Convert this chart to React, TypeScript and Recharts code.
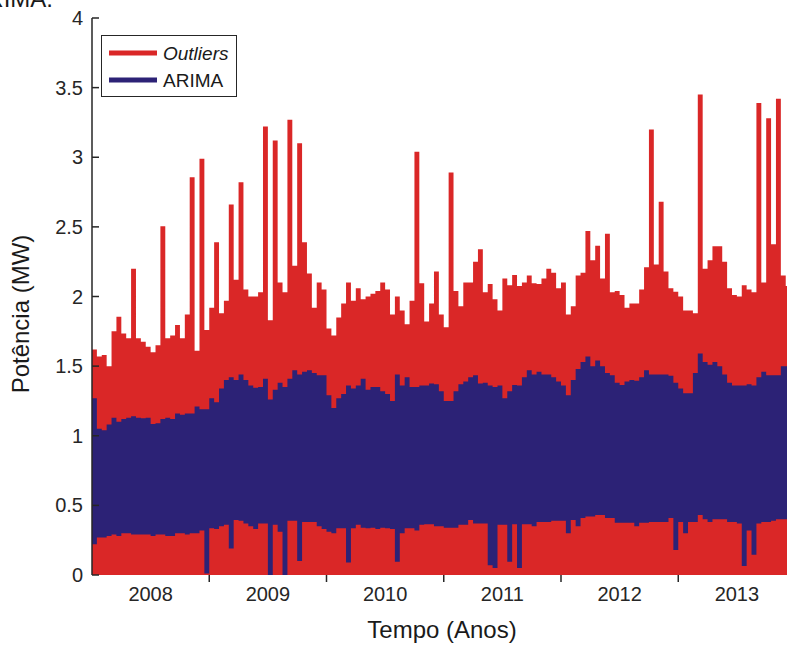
import React from "react";
import { ComposedChart, Area, XAxis, YAxis, Legend, Label } from "recharts";

// Half-month bins starting Jan 2008 (24 bins per year, one row per year)
const START_YEAR = 2008;
const BINS_PER_YEAR = 24;

// "Outliers" series: upper envelope (MW); the series fills down to 0
const outliersHigh: number[] = [
  1.62, 1.57, 1.58, 1.5, 1.75, 1.855, 1.735, 1.7, 2.2, 1.7, 1.675, 1.64, 1.6, 1.65, 2.505, 1.7, 1.72, 1.795, 1.7, 1.87, 2.856, 1.61, 2.99, 1.76,
  1.92, 2.39, 1.88, 1.97, 2.66, 2.12, 2.82, 2.05, 2.0, 2.0, 2.03, 3.22, 1.83, 3.12, 2.1, 2.03, 3.27, 2.22, 3.1, 2.39, 2.165, 1.92, 2.1, 2.05,
  1.77, 1.72, 1.85, 1.95, 2.1, 1.97, 2.06, 1.98, 2.0, 2.02, 2.04, 2.1, 2.05, 1.87, 2.0, 1.9, 1.8, 1.97, 3.04, 2.095, 1.82, 1.95, 2.18, 1.87,
  1.78, 2.89, 2.04, 1.93, 2.1, 2.1, 2.25, 2.34, 2.03, 2.09, 1.98, 1.9, 2.13, 2.08, 2.155, 2.075, 2.1, 2.15, 2.095, 2.09, 2.13, 2.2, 2.17, 2.06,
  2.1, 1.87, 1.93, 2.15, 2.17, 2.47, 2.26, 2.365, 2.13, 2.45, 2.03, 2.04, 2.01, 1.92, 1.95, 1.95, 2.05, 2.21, 3.2, 2.23, 2.68, 2.18, 2.06, 2.035,
  2.0, 1.9, 1.9, 1.88, 3.45, 2.2, 2.26, 2.36, 2.36, 2.25, 2.06, 2.01, 2.0, 2.08, 2.05, 2.03, 3.39, 2.1, 3.28, 2.375, 3.42, 2.15, 2.075,
];

// "ARIMA" series: lower and upper envelope (MW)
const arimaLow: number[] = [
  0.22, 0.27, 0.27, 0.28, 0.29, 0.28, 0.3, 0.3, 0.29, 0.29, 0.29, 0.29, 0.28, 0.29, 0.29, 0.28, 0.28, 0.3, 0.3, 0.29, 0.3, 0.3, 0.32, 0.01,
  0.335, 0.33, 0.35, 0.36, 0.19, 0.395, 0.39, 0.37, 0.35, 0.33, 0.37, 0.37, 0.0, 0.36, 0.31, 0.0, 0.39, 0.39, 0.1, 0.38, 0.38, 0.38, 0.35, 0.33,
  0.31, 0.3, 0.335, 0.335, 0.09, 0.335, 0.36, 0.34, 0.335, 0.34, 0.33, 0.34, 0.335, 0.33, 0.095, 0.3, 0.335, 0.335, 0.32, 0.36, 0.365, 0.365, 0.35, 0.35,
  0.34, 0.34, 0.34, 0.36, 0.36, 0.395, 0.37, 0.37, 0.37, 0.07, 0.05, 0.36, 0.36, 0.095, 0.365, 0.05, 0.365, 0.365, 0.35, 0.38, 0.38, 0.38, 0.39, 0.39,
  0.39, 0.3, 0.395, 0.35, 0.41, 0.42, 0.42, 0.43, 0.43, 0.41, 0.41, 0.375, 0.375, 0.375, 0.375, 0.35, 0.375, 0.375, 0.38, 0.38, 0.38, 0.38, 0.41, 0.18,
  0.38, 0.3, 0.38, 0.38, 0.43, 0.4, 0.38, 0.4, 0.4, 0.4, 0.38, 0.38, 0.37, 0.065, 0.32, 0.145, 0.37, 0.38, 0.38, 0.39, 0.4, 0.4, 0.4,
];
const arimaHigh: number[] = [
  1.27, 1.05, 1.04, 1.08, 1.13, 1.1, 1.12, 1.13, 1.14, 1.13, 1.125, 1.13, 1.085, 1.09, 1.12, 1.13, 1.12, 1.16, 1.15, 1.16, 1.16, 1.21, 1.19, 1.19,
  1.27, 1.24, 1.34, 1.4, 1.42, 1.4, 1.44, 1.4, 1.36, 1.345, 1.35, 1.41, 1.26, 1.33, 1.38, 1.35, 1.41, 1.47, 1.44, 1.46, 1.47, 1.45, 1.435, 1.435,
  1.29, 1.2, 1.27, 1.3, 1.36, 1.34, 1.36, 1.41, 1.33, 1.35, 1.35, 1.32, 1.3, 1.25, 1.44, 1.36, 1.42, 1.35, 1.35, 1.36, 1.36, 1.375, 1.37, 1.32,
  1.25, 1.25, 1.32, 1.37, 1.39, 1.42, 1.435, 1.375, 1.38, 1.36, 1.35, 1.36, 1.27, 1.32, 1.365, 1.36, 1.42, 1.47, 1.44, 1.46, 1.44, 1.44, 1.42, 1.39,
  1.36, 1.29, 1.4, 1.48, 1.53, 1.57, 1.5, 1.54, 1.5, 1.45, 1.435, 1.38, 1.365, 1.39, 1.4, 1.395, 1.42, 1.47, 1.44, 1.44, 1.44, 1.44, 1.43, 1.38,
  1.34, 1.305, 1.305, 1.45, 1.59, 1.53, 1.51, 1.53, 1.5, 1.44, 1.38, 1.36, 1.36, 1.36, 1.37, 1.36, 1.42, 1.46, 1.435, 1.435, 1.435, 1.5, 1.5,
];

const yTicks = [0, 0.5, 1, 1.5, 2, 2.5, 3, 3.5, 4];
const yearLabels = [2008, 2009, 2010, 2011, 2012, 2013];
const yearBoundaries = [2009, 2010, 2011, 2012, 2013, 2014];

const RED = "#DA2727";
const BLUE = "#2C2276";
const AXIS = "#262626";
const FONT = "'Liberation Sans', Arial, Helvetica, sans-serif";

const SERIES = [
  { name: "Outliers", color: RED, italic: true },
  { name: "ARIMA", color: BLUE, italic: false },
];

// table for the library: time (years) + envelopes; final row closes the last step
const rows = outliersHigh.map((v, i) => ({
  t: START_YEAR + i / BINS_PER_YEAR,
  rh: v,
  arima: [arimaLow[i], arimaHigh[i]],
}));
const last = outliersHigh.length - 1;
rows.push({
  t: START_YEAR + outliersHigh.length / BINS_PER_YEAR,
  rh: outliersHigh[last],
  arima: [arimaLow[last], arimaHigh[last]],
});

const PLOT_LEFT = 92;
const PLOT_WIDTH = 710;
const PX_PER_YEAR = 117.25;
const X_MAX = START_YEAR + PLOT_WIDTH / PX_PER_YEAR;

const xTickValues = [...yearLabels.map((y) => y + 0.5), ...yearBoundaries].sort((a, b) => a - b);

const BottomTick = (props: any) => {
  const { x, y, payload } = props;
  const v = payload.value as number;
  if (Number.isInteger(v)) {
    return <line x1={x} x2={x} y1={y} y2={y + 7} stroke={AXIS} strokeWidth={1.5} />;
  }
  return (
    <text x={x} y={y + 26} textAnchor="middle" fontSize={20} fill={AXIS} fontFamily={FONT}>
      {Math.floor(v)}
    </text>
  );
};

const TopTick = (props: any) => {
  const { x, y } = props;
  return <line x1={x} x2={x} y1={y} y2={y + 6} stroke={AXIS} strokeWidth={1.5} />;
};

const LeftTick = (props: any) => {
  const { x, y, payload } = props;
  return (
    <g>
      <line x1={x} x2={x + 7} y1={y} y2={y} stroke={AXIS} strokeWidth={1.5} />
      <text x={x - 9} y={y + 7} textAnchor="end" fontSize={20} fill={AXIS} fontFamily={FONT}>
        {payload.value}
      </text>
    </g>
  );
};

const LegendBox = () => {
  return (
    <div
      style={{
        width: 136,
        height: 62,
        border: `1px solid ${AXIS}`,
        background: "#fff",
        boxSizing: "border-box",
      }}
    >
      <svg width={134} height={60} style={{ display: "block" }}>
        {SERIES.map((s, i) => {
          const cy = 17 + i * 27;
          return (
            <g key={s.name}>
              <line x1={7} x2={55} y1={cy} y2={cy} stroke={s.color} strokeWidth={5} />
              <text
                x={61}
                y={cy + 7}
                fontSize={19}
                fontStyle={s.italic ? "italic" : "normal"}
                fill="#1a1a1a"
                fontFamily={FONT}
              >
                {s.name}
              </text>
            </g>
          );
        })}
      </svg>
    </div>
  );
};

export default function App() {
  return (
    <div
      style={{
        position: "fixed",
        left: 0,
        top: 0,
        width: 787,
        height: 646,
        overflow: "hidden",
        background: "#fff",
        fontFamily: FONT,
      }}
    >
      <svg width={787} height={20} style={{ position: "absolute", left: 0, top: 0 }}>
        <text x={53} y={7} textAnchor="end" fontSize={24} fill="#1a1a1a" fontFamily={FONT}>
          ARIMA.
        </text>
      </svg>
      <ComposedChart
        width={PLOT_LEFT + PLOT_WIDTH + 10}
        height={646}
        data={rows}
        margin={{ top: 18, right: 10, bottom: 0, left: 0 }}
        style={{ position: "absolute", left: 0, top: 0 }}
      >
        <XAxis
          xAxisId="bottom"
          dataKey="t"
          type="number"
          domain={[START_YEAR, X_MAX]}
          allowDataOverflow
          ticks={xTickValues}
          interval={0}
          tick={<BottomTick />}
          tickLine={false}
          tickSize={0}
          tickMargin={0}
          axisLine={false}
          height={71}
        >
          <Label
            content={() => (
              <text x={442} y={638} textAnchor="middle" fontSize={24} fill="#1a1a1a" fontFamily={FONT}>
                Tempo (Anos)
              </text>
            )}
          />
        </XAxis>
        <XAxis
          xAxisId="top"
          orientation="top"
          dataKey="t"
          type="number"
          domain={[START_YEAR, X_MAX]}
          allowDataOverflow
          ticks={yearBoundaries}
          interval={0}
          tick={<TopTick />}
          tickLine={false}
          tickSize={0}
          tickMargin={0}
          axisLine={{ stroke: AXIS, strokeWidth: 1.5 }}
          height={0}
        />
        <YAxis
          type="number"
          domain={[0, 4]}
          ticks={yTicks}
          interval={0}
          tick={<LeftTick />}
          tickLine={false}
          tickSize={0}
          tickMargin={0}
          axisLine={{ stroke: AXIS, strokeWidth: 1.5 }}
          width={PLOT_LEFT}
        >
          <Label
            content={() => (
              <text
                x={29}
                y={314}
                transform="rotate(-90 29 314)"
                textAnchor="middle"
                fontSize={24}
                fill="#1a1a1a"
                fontFamily={FONT}
              >
                Potência (MW)
              </text>
            )}
          />
        </YAxis>
        <Area
          xAxisId="bottom"
          name="Outliers"
          dataKey="rh"
          type="stepAfter"
          fill={RED}
          fillOpacity={1}
          stroke="none"
          isAnimationActive={false}
        />
        <Area
          xAxisId="bottom"
          name="ARIMA"
          dataKey="arima"
          type="stepAfter"
          fill={BLUE}
          fillOpacity={1}
          stroke="none"
          isAnimationActive={false}
        />
        <Legend
          layout="horizontal"
          verticalAlign="middle"
          align="center"
          content={<LegendBox />}
          wrapperStyle={{ left: 101, top: 35, width: 136, height: 62 }}
        />
      </ComposedChart>
    </div>
  );
}
